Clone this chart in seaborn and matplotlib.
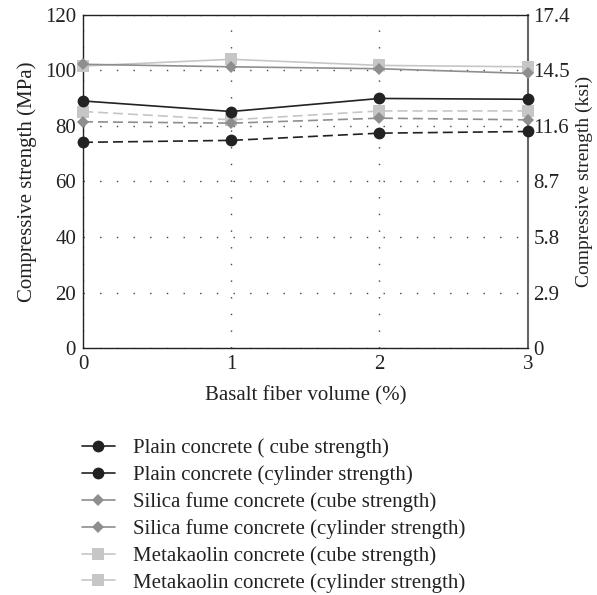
import matplotlib
matplotlib.use("Agg")
import matplotlib.pyplot as plt
import seaborn as sns
import pandas as pd
import numpy as np

fiber = [0, 1, 2, 3]
plain_cube = [89.0, 85.2, 89.9, 89.6]
plain_cyl = [74.1, 74.8, 77.4, 78.0]
silica_cube = [102.2, 101.3, 100.6, 98.9]
silica_cyl = [81.5, 81.0, 82.8, 82.2]
meta_cube = [101.6, 104.0, 101.8, 101.3]
meta_cyl = [85.2, 82.2, 85.4, 85.4]

labels = ["Plain concrete ( cube strength)",
          "Plain concrete (cylinder strength)",
          "Silica fume concrete (cube strength)",
          "Silica fume concrete (cylinder strength)",
          "Metakaolin concrete (cube strength)",
          "Metakaolin concrete (cylinder strength)"]
series = [plain_cube, plain_cyl, silica_cube, silica_cyl, meta_cube, meta_cyl]
ksi_ticks = ["0", "2.9", "5.8", "8.7", "11.6", "14.5", "17.4"]

rows = []
for lab, vals in zip(labels, series):
    for f, v in zip(fiber, vals):
        rows.append({"fiber": f, "strength": v, "series": lab})
df = pd.DataFrame(rows)

sns.set_style("white")
plt.rcParams['font.family'] = ['Liberation Serif', 'DejaVu Serif']
plt.rcParams['font.size'] = 15
plt.rcParams['text.color'] = "#222222"
plt.rcParams['axes.labelcolor'] = "#222222"
plt.rcParams['xtick.color'] = "#222222"
plt.rcParams['ytick.color'] = "#222222"

colors = ["#222222", "#222222", "#8e8e8e", "#8e8e8e", "#c6c6c6", "#c6c6c6"]
markers = ["o", "o", "D", "D", "s", "s"]
msizes = [8.5, 8.5, 6.5, 6.5, 8.5, 8.5]
styles = ["-", (0, (6, 3)), "-", (0, (6, 3)), "-", (0, (6, 3))]

fig = plt.figure(figsize=(5.97, 5.95), dpi=100)
ax = fig.add_axes([0.139, 0.415, 0.745, 0.56])

handles = []
for i, lab in enumerate(labels):
    sub = df[df["series"] == lab]
    sns.lineplot(data=sub, x="fiber", y="strength", ax=ax, color=colors[i],
                 marker=markers[i], markersize=msizes[i], markeredgewidth=0,
                 linewidth=1.2, legend=False)
    line = ax.lines[-1]
    line.set_linestyle(styles[i])
    line.set_clip_on(False)
    line.set_zorder(3 + (5 - i) * 0.1 if i % 2 else 4 + (5 - i) * 0.1)
    h = matplotlib.lines.Line2D([], [], color=colors[i], marker=markers[i],
                                markersize=msizes[i], markeredgewidth=0,
                                linewidth=1.2, linestyle="-")
    handles.append(h)

ax.set_xlim(0, 3)
ax.set_ylim(0, 120)
ax.set_xticks(fiber)
ax.set_yticks(np.arange(0, 121, 20))
ax.grid(True, linestyle=(0, (1, 11)), color="#444444", linewidth=1.0)
ax.tick_params(length=0, pad=5)
for s in ["top", "left", "bottom"]:
    ax.spines[s].set_color("#222222")
    ax.spines[s].set_linewidth(1.0)
ax.spines["right"].set_color("#666666")
ax.spines["right"].set_linewidth(1.5)
ax.set_xlabel("Basalt fiber volume (%)", labelpad=9)
ax.set_ylabel("Compressive strength (MPa)", labelpad=6)

ax2 = ax.twinx()
ax2.set_ylim(0, 17.4)
ax2.set_yticks([float(t) for t in ksi_ticks])
ax2.set_yticklabels(ksi_ticks)
ax2.tick_params(length=0, pad=4)
for s in ax2.spines.values():
    s.set_visible(False)
ax2.set_ylabel("Compressive strength (ksi)", labelpad=4, fontsize=14)

fig.legend(handles=handles, labels=labels, loc="upper left",
           bbox_to_anchor=(0.123, 0.277), frameon=False,
           handlelength=1.6, handletextpad=0.87, labelspacing=0.34,
           borderaxespad=0, fontsize=15)

fig.savefig("out.png", dpi=100)
